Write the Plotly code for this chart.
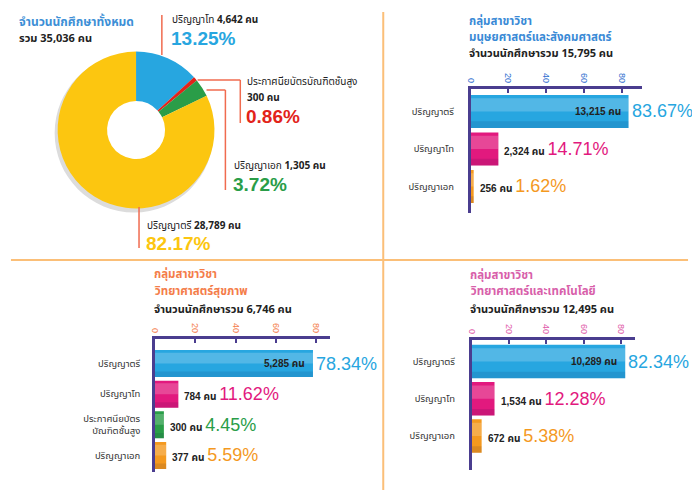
import plotly.graph_objects as go

W, H = 692, 492


def px(x):
    return x / W


def py(y):
    return 1 - y / H


# ---------------- data ----------------
total_labels = ["ปริญญาโท", "ประกาศนียบัตรบัณฑิตชั้นสูง", "ปริญญาเอก", "ปริญญาตรี"]
total_counts = [4642, 300, 1305, 28789]
total_pcts = [13.25, 0.86, 3.72, 82.17]
total_sum = 35036

hum_labels = ["ปริญญาตรี", "ปริญญาโท", "ปริญญาเอก"]
hum_counts = [13215, 2324, 256]
hum_pcts = [83.67, 14.71, 1.62]
hum_total = 15795

health_labels = ["ปริญญาตรี", "ปริญญาโท", "ประกาศนียบัตร<br>บัณฑิตชั้นสูง", "ปริญญาเอก"]
health_counts = [5285, 784, 300, 377]
health_pcts = [78.34, 11.62, 4.45, 5.59]
health_total = 6746

sci_labels = ["ปริญญาตรี", "ปริญญาโท", "ปริญญาเอก"]
sci_counts = [10289, 1534, 672]
sci_pcts = [82.34, 12.28, 5.38]
sci_total = 12495

axis_ticks = [0, 20, 40, 60, 80]

# ---------------- styles ----------------
FONT = "Noto Sans Thai, Tahoma, Liberation Sans, Arial, sans-serif"
NUMFONT = "Liberation Sans, Arial, Noto Sans Thai, sans-serif"
BLUE = "#27a6e0"
PINK = "#e2197e"
ORANGE = "#f4991f"
GREEN = "#2a9d48"
RED = "#e2231a"
YELLOW = "#fcc610"
AXIS = "#4a3d8f"
LEADER = "#f06b4f"
DIVIDER = "#fbbf78"

level_color = {
    "ปริญญาตรี": BLUE,
    "ปริญญาโท": PINK,
    "ปริญญาเอก": ORANGE,
    "ประกาศนียบัตร<br>บัณฑิตชั้นสูง": GREEN,
}

fig = go.Figure()
annotations = []
shapes = []

# ---------------- donut ----------------
cx, cy, r = 132, 130, 79
fig.add_trace(go.Pie(
    values=[1], marker=dict(colors=["#dcdcdc"]), hole=0.7, sort=False,
    textinfo="none", hoverinfo="skip", showlegend=False,
    domain=dict(x=[px(cx - 2 - r - 1), px(cx - 2 + r + 1)],
                y=[py(cy + 3 + r + 1), py(cy + 3 - r - 1)]),
))
fig.add_trace(go.Pie(
    labels=total_labels, values=total_counts, hole=0.37, sort=False,
    direction="clockwise", rotation=0,
    marker=dict(colors=[BLUE, RED, GREEN, YELLOW], line=dict(width=0)),
    textinfo="none", showlegend=False,
    domain=dict(x=[px(cx - r), px(cx + r)], y=[py(cy + r), py(cy - r)]),
))

# leader lines
leaders = [
    [(158, 55), (158, 15)],
    [(194, 80), (237, 80), (237, 123)],
    [(203, 90), (222, 90), (222, 190)],
    [(135, 207), (135, 248)],
]
for pts in leaders:
    for (x0, y0), (x1, y1) in zip(pts[:-1], pts[1:]):
        shapes.append(dict(type="line", xref="paper", yref="paper",
                           x0=px(x0), y0=py(y0), x1=px(x1), y1=py(y1),
                           line=dict(color=LEADER, width=1.5)))


def ann(x, y, text, size=10, color="#222", bold=False, xanchor="left", family=FONT):
    if bold:
        text = f"<b>{text}</b>"
    annotations.append(dict(xref="paper", yref="paper", x=px(x), y=py(y),
                            text=text, showarrow=False, xanchor=xanchor,
                            yanchor="middle",
                            font=dict(family=family, size=size, color=color)))


ann(12, 22, "จำนวนนักศึกษาทั้งหมด", 12, "#3d8fd6", True)
ann(12, 38, f"รวม {total_sum:,} คน", 11, "#222", True)

ann(166, 20, f"{total_labels[0]} <b>{total_counts[0]:,} คน</b>", 10)
ann(165, 38, f"{total_pcts[0]:.2f}%", 19, BLUE, True, family=NUMFONT)
ann(242, 82, total_labels[1], 10)
ann(242, 98, f"{total_counts[1]:,} คน", 10, "#222", True)
ann(241, 116, f"{total_pcts[1]:.2f}%", 19, RED, True, family=NUMFONT)
ann(229, 166, f"{total_labels[2]} <b>{total_counts[2]:,} คน</b>", 10)
ann(228, 184, f"{total_pcts[2]:.2f}%", 19, GREEN, True, family=NUMFONT)
ann(141, 226, f"{total_labels[3]} <b>{total_counts[3]:,} คน</b>", 10)
ann(140, 243, f"{total_pcts[3]:.2f}%", 19, YELLOW, True, family=NUMFONT)

# ---------------- divider lines ----------------
shapes.append(dict(type="line", xref="paper", yref="paper",
                   x0=px(381), x1=px(381), y0=py(12), y1=py(490),
                   line=dict(color=DIVIDER, width=2)))
shapes.append(dict(type="line", xref="paper", yref="paper",
                   x0=px(6), x1=px(688), y0=py(260), y1=py(260),
                   line=dict(color=DIVIDER, width=2)))

# ---------------- bar panels ----------------
panels = [
    dict(n=2, labels=hum_labels, counts=hum_counts, pcts=hum_pcts, total=hum_total,
         title2="มนุษยศาสตร์และสังคมศาสตร์", tcolor="#3a8ad6", tickcolor="#2f6fcf",
         xd=(469, 642), yd=(89, 213), xr=91, yr=[2.71, -0.6], width=0.88,
         tx=465, ty=(21, 37, 54), standoff=12),
    dict(n=3, labels=health_labels, counts=health_counts, pcts=health_pcts,
         total=health_total,
         title2="วิทยาศาสตร์สุขภาพ", tcolor="#f47d4a", tickcolor="#f47d4a",
         xd=(151, 327), yd=(339, 472), xr=86.6, yr=[3.54, -0.8], width=0.88,
         tx=148, ty=(274, 291, 309), standoff=10),
    dict(n=4, labels=sci_labels, counts=sci_counts, pcts=sci_pcts, total=sci_total,
         title2="วิทยาศาสตร์และเทคโนโลยี", tcolor="#d860aa", tickcolor="#e05aa8",
         xd=(470, 635), yd=(340, 470), xr=87.8, yr=[2.91, -0.58], width=0.9,
         tx=466, ty=(275, 291, 309), standoff=12),
]

layout_axes = {}
for p in panels:
    n = p["n"]
    idx = list(range(len(p["labels"])))
    colors = [level_color[l] for l in p["labels"]]
    fig.add_trace(go.Bar(
        x=p["pcts"], y=idx, orientation="h", width=p["width"],
        marker=dict(color=colors, line=dict(width=0)),
        xaxis=f"x{n}", yaxis=f"y{n}", showlegend=False, hoverinfo="skip",
    ))
    # soft glossy highlight and darker lower edge
    fig.add_trace(go.Bar(
        x=p["pcts"], y=idx, orientation="h", width=p["width"] * 0.4,
        offset=-p["width"] * 0.4,
        marker=dict(color="rgba(255,255,255,0.2)", line=dict(width=0)),
        xaxis=f"x{n}", yaxis=f"y{n}", showlegend=False, hoverinfo="skip",
    ))
    fig.add_trace(go.Bar(
        x=p["pcts"], y=idx, orientation="h", width=p["width"] * 0.2,
        offset=p["width"] * 0.3,
        marker=dict(color="rgba(0,0,60,0.1)", line=dict(width=0)),
        xaxis=f"x{n}", yaxis=f"y{n}", showlegend=False, hoverinfo="skip",
    ))
    layout_axes[f"xaxis{n}"] = dict(
        domain=[px(p["xd"][0]), px(p["xd"][1])], anchor=f"y{n}", side="top",
        range=[0, p["xr"]], tickvals=axis_ticks, tickangle=90,
        tickfont=dict(family=NUMFONT, size=9, color=p["tickcolor"]),
        showline=True, linecolor=AXIS, linewidth=2.5,
        ticks="inside", ticklen=4, tickwidth=2, tickcolor=AXIS,
        showgrid=False, zeroline=False, fixedrange=True,
    )
    layout_axes[f"yaxis{n}"] = dict(
        domain=[py(p["yd"][1]), py(p["yd"][0])], anchor=f"x{n}",
        range=p["yr"], tickvals=idx, ticktext=p["labels"],
        tickfont=dict(family=FONT, size=9.5, color="#333"),
        ticklabelstandoff=p["standoff"],
        showline=True, linecolor=AXIS, linewidth=2.5, ticks="",
        showgrid=False, zeroline=False, fixedrange=True,
    )
    for i, (c, pc, lab) in enumerate(zip(p["counts"], p["pcts"], p["labels"])):
        col = level_color[lab]
        if i == 0:
            annotations.append(dict(
                xref=f"x{n}", yref=f"y{n}", x=pc, y=i, xanchor="right",
                xshift=-6, showarrow=False, text=f"<b>{c:,} คน</b>",
                font=dict(family=NUMFONT, size=10, color="#222")))
            annotations.append(dict(
                xref=f"x{n}", yref=f"y{n}", x=pc, y=i, xanchor="left",
                xshift=1, showarrow=False, text=f"{pc:.2f}%",
                font=dict(family=NUMFONT, size=18, color=col)))
        else:
            annotations.append(dict(
                xref=f"x{n}", yref=f"y{n}", x=pc, y=i, xanchor="left",
                xshift=4, showarrow=False,
                text=(f"<b>{c:,} คน</b> <span style='font-size:18px;color:{col}'>"
                      f"{pc:.2f}%</span>"),
                font=dict(family=NUMFONT, size=10, color="#222")))
    ann(p["tx"], p["ty"][0], "กลุ่มสาขาวิชา", 11.5, p["tcolor"], True)
    ann(p["tx"], p["ty"][1], p["title2"], 11.5, p["tcolor"], True)
    ann(p["tx"], p["ty"][2], f"จำนวนนักศึกษารวม {p['total']:,} คน", 11, "#222", True)

fig.update_layout(
    width=W, height=H, margin=dict(l=0, r=0, t=0, b=0),
    paper_bgcolor="white", plot_bgcolor="white",
    barmode="overlay", showlegend=False,
    annotations=annotations, shapes=shapes,
    font=dict(family=FONT),
    **layout_axes,
)

fig.write_html("out.html")
